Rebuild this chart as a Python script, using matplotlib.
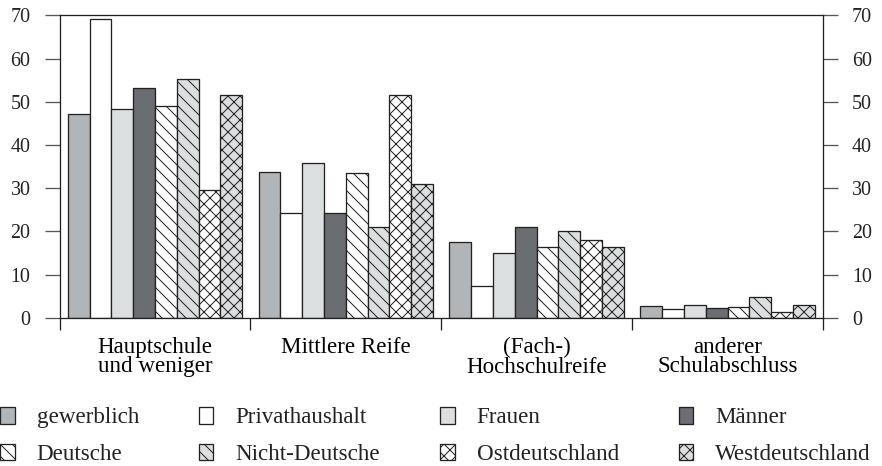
import numpy as np
import matplotlib
matplotlib.use("Agg")
import matplotlib.pyplot as plt
from matplotlib.patches import Patch

#region Data
categories = ["Hauptschule\nund weniger", "Mittlere Reife", "(Fach-)\nHochschulreife", "anderer\nSchulabschluss"]
gewerblich = [47.2, 33.8, 17.6, 2.8]
privathaushalt = [69.2, 24.2, 7.3, 1.9]
frauen = [48.2, 35.9, 14.9, 2.9]
maenner = [53.2, 24.2, 20.9, 2.2]
deutsche = [49.0, 33.6, 16.3, 2.5]
nicht_deutsche = [55.2, 21.1, 20.0, 4.9]
ostdeutschland = [29.6, 51.6, 17.9, 1.3]
westdeutschland = [51.6, 30.9, 16.4, 2.9]
yticks = [0, 10, 20, 30, 40, 50, 60, 70]
#endregion

# series: (label, values, facecolor, hatch)
INK = "#222222"
MID = "#b1b5b8"
LIGHT = "#dcdfe0"
DARK = "#6a6d72"
series = [
    ("gewerblich", gewerblich, MID, None),
    ("Privathaushalt", privathaushalt, "white", None),
    ("Frauen", frauen, LIGHT, None),
    ("Männer", maenner, DARK, None),
    ("Deutsche", deutsche, "white", "\\\\"),
    ("Nicht-Deutsche", nicht_deutsche, LIGHT, "\\\\"),
    ("Ostdeutschland", ostdeutschland, "white", "xx"),
    ("Westdeutschland", westdeutschland, LIGHT, "xx"),
]

plt.rcParams["font.family"] = ["Liberation Serif", "DejaVu Serif"]
plt.rcParams["hatch.color"] = INK
plt.rcParams["hatch.linewidth"] = 1.0
plt.rcParams["text.color"] = INK

# dpi 72 so 1 pt == 1 px and the hatch spacing comes out ~12 px
fig = plt.figure(figsize=(882 / 72, 466 / 72), dpi=72)
ax = fig.add_axes([59.5 / 882, 1 - 317.7 / 466, (823 - 59.5) / 882, (317.7 - 15.3) / 466])

x = np.arange(len(categories))
width = 0.1142
for i, (label, vals, color, hatch) in enumerate(series):
    ax.bar(x + (i - 3.5) * width, vals, width, color=color, edgecolor=INK,
           linewidth=1.3, hatch=hatch, label=label, zorder=2)

ax.set_xlim(-0.5, len(categories) - 0.5)
ax.set_ylim(0, 70)

# y axis on both sides
ax.set_yticks(yticks)
ax.tick_params(axis="y", which="major", direction="out", length=15, width=1.3,
               color="#555555", labelsize=20, pad=14, left=True, right=True,
               labelleft=True, labelright=True, labelcolor=INK)

# group labels at centres, separator ticks at boundaries
ax.set_xticks(x)
ax.set_xticklabels(categories, fontsize=23, linespacing=0.92)
ax.set_xticks(np.arange(len(categories) + 1) - 0.5, minor=True)
ax.tick_params(axis="x", which="major", length=0, pad=19)
ax.tick_params(axis="x", which="minor", direction="out", length=12, width=1.3, color=INK)

for s in ax.spines.values():
    s.set_linewidth(1.3)
    s.set_color(INK)

# legend, filled row-wise like the original
handles = [Patch(facecolor=c, edgecolor=INK, linewidth=1.3, hatch=h, label=l)
           for l, v, c, h in series]
order = [0, 4, 1, 5, 2, 6, 3, 7]
fig.legend([handles[k] for k in order], [series[k][0] for k in order],
           ncol=4, loc="upper left", bbox_to_anchor=(0.0, 1 - 407 / 466),
           frameon=False, fontsize=23, handlelength=0.635, handleheight=0.74,
           handletextpad=0.96, columnspacing=2.6, labelspacing=0.66,
           borderaxespad=0, borderpad=0)

fig.savefig("out.png", dpi=72)
